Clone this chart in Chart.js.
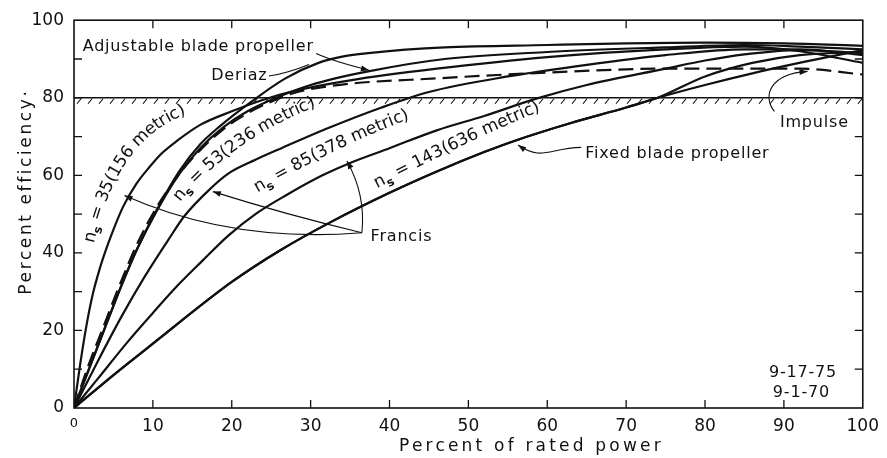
<!DOCTYPE html>
<html>
<head>
<meta charset="utf-8">
<script src="https://cdn.jsdelivr.net/npm/chart.js@4"></script>
<style>
  html, body { margin: 0; padding: 0; background: #fff; }
  #chart { display: block; }
</style>
</head>
<body>
<canvas id="chart" width="887" height="458"></canvas>
<script>
// curves: x = percent of rated power, y = percent efficiency
const ns35_x = [0, 0.8, 1.6, 2.4, 3.2, 4, 5, 6.2, 7.9, 9.6, 11.2, 13, 16, 20, 24, 28, 35, 46, 60, 75, 85, 92, 100];
const ns35_y = [0, 11.5, 21.5, 29.5, 35.5, 40.5, 46, 51.8, 57.8, 62.2, 65.8, 68.8, 73, 76.5, 79.5, 81.8, 84.5, 87.5, 90.5, 92.5, 93.2, 92, 89];

const ns53_x = [0, 3, 6, 9, 12, 14, 17, 19.6, 23, 26.3, 32, 39, 45, 55, 65, 75, 85, 92, 100];
const ns53_y = [0, 12, 23.5, 34, 43.5, 49.5, 56, 60.5, 64, 67, 72, 77.5, 81.5, 85.5, 88.5, 91, 92.5, 92.5, 91];

const ns85_x = [0, 3, 6.7, 10, 13.1, 16.3, 19.6, 23, 27, 31.5, 35, 40, 46, 52, 58.5, 65, 75, 80, 85, 92, 100];
const ns85_y = [0, 7.5, 16.8, 24.5, 31.5, 38, 44.5, 50, 55, 60, 63.2, 67, 71.6, 75.3, 79.7, 83.3, 87.5, 89.6, 91.2, 92.3, 91.5];

const ns143_x = [0, 5, 10, 20, 26, 32.6, 40, 46, 52, 56, 63, 70, 74, 80, 86, 92, 100];
const ns143_y = [0, 8.5, 16.6, 32.5, 40.5, 48, 55.5, 61, 66, 69, 73.5, 77.5, 80, 85.5, 89, 91, 91.8];

const fixed_x = [0, 5, 10, 20, 26, 32.6, 40, 46, 52, 56, 63, 70, 74, 80, 86, 92.7, 100];
const fixed_y = [0, 8.5, 16.6, 32.5, 40.5, 48, 55.5, 61, 66, 69, 73.5, 77.5, 80, 83.3, 86.3, 89.3, 92.3];

const adjustable_x = [0, 1.6, 3.7, 6, 8, 10.4, 13.4, 16, 19, 22, 26, 30, 37.3, 47, 60, 75, 85, 92, 100];
const adjustable_y = [0, 8.5, 19.5, 31.5, 41, 50.5, 60.5, 67, 72.5, 76.5, 80.3, 83.3, 86.8, 90, 91.8, 93, 93.6, 93.2, 92.5];

const deriaz_x = [0, 1.6, 3.7, 6, 8, 10.4, 13.4, 16, 18.4, 22.5, 26.8, 31, 34, 37.3, 42, 47, 60, 70, 80, 90, 100];
const deriaz_y = [0, 8.5, 19.5, 31.5, 41, 50.7, 61.2, 68, 72.5, 79, 85, 89, 90.6, 91.5, 92.4, 93, 93.6, 94, 94.2, 94, 93.4];

const impulse_x = [0, 1.6, 3.7, 6, 8, 10.4, 13.4, 16, 19, 22, 25, 28, 34, 46, 60, 75, 92, 100];
const impulse_y = [0, 9.7, 20.8, 32.8, 42.3, 51.5, 60.5, 66.5, 72, 76, 79, 81.3, 83.4, 85, 86.5, 87.5, 87.5, 86];

const x_tick_values = [0, 10, 20, 30, 40, 50, 60, 70, 80, 90, 100];
const y_tick_values = [0, 20, 40, 60, 80, 100];
const minor_step = 10;
const hatch_level = 80;

const ink = "#111";
const family = "'DejaVu Sans', sans-serif";

const pts = (xs, ys) => xs.map((x, i) => ({ x: x, y: ys[i] }));

const curve = (label, xs, ys, dash) => ({
  label: label,
  data: pts(xs, ys),
  borderColor: ink,
  borderWidth: 2.2,
  borderDash: dash || [],
  pointRadius: 0,
  fill: false,
  cubicInterpolationMode: "monotone",
});

// text placed in data units (x %, y %)
const plain_labels = [
  { text: "Adjustable blade propeller", x: 1.1, y: 92.0 },
  { text: "Deriaz", x: 17.4, y: 84.5 },
  { text: "Francis", x: 37.6, y: 43.1 },
  { text: "Impulse", x: 89.5, y: 72.4 },
  { text: "Fixed blade propeller", x: 64.8, y: 64.5 },
  { text: "9-17-75", x: 88.1, y: 8.0 },
  { text: "9-1-70", x: 88.6, y: 2.8 },
];

// specific speed labels follow a cubic path (data units)
const ns_labels = [
  { rest: " = 35(156 metric)", path: [[1.77, 40.9], [3.28, 55.4], [6.44, 72.0], [14.9, 77.5]] },
  { rest: " = 53(236 metric)", path: [[12.6, 52.7], [15.3, 60.3], [21.6, 72.1], [31.1, 79.3]] },
  { rest: " = 85(378 metric)", path: [[22.5, 56.0], [27.3, 61.8], [34.8, 70.1], [42.9, 76.0]] },
  { rest: " = 143(636 metric)", path: [[37.4, 56.9], [43.7, 63.5], [51.3, 71.5], [59.8, 78.4]] },
];

// leader lines: start, control point(s), end (arrow at end when arrow is true)
const leaders = [
  { p: [[36.5, 45.2], [20, 42.5], [6.4, 54.8]], arrow: true },
  { p: [[36.5, 45.2], [27, 49.8], [17.6, 55.8]], arrow: true },
  { p: [[36.5, 45.2], [37, 55], [34.6, 63.7]], arrow: true },
  { p: [[30.7, 91.4], [33, 89.3], [37.4, 87.1]], arrow: true },
  { p: [[24.7, 85.6], [27, 86.3], [29.8, 88.6]], arrow: false },
  { p: [[88.8, 76.5], [87.2, 80.5], [88.3, 86.2], [93, 86.8]], arrow: true },
  { p: [[64.3, 67.2], [60.2, 67], [59.3, 63.6], [56.3, 67.8]], arrow: true },
];

const draw_arrow = (ctx, from, to) => {
  const a = Math.atan2(to.y - from.y, to.x - from.x);
  ctx.beginPath();
  ctx.moveTo(to.x, to.y);
  ctx.lineTo(to.x - 8 * Math.cos(a) + 3 * Math.sin(a), to.y - 8 * Math.sin(a) - 3 * Math.cos(a));
  ctx.lineTo(to.x - 8 * Math.cos(a) - 3 * Math.sin(a), to.y - 8 * Math.sin(a) + 3 * Math.cos(a));
  ctx.closePath();
  ctx.fill();
};

const bez = (q, t) => {
  const u = 1 - t;
  const a = u * u * u, b = 3 * u * u * t, c = 3 * u * t * t, d = t * t * t;
  return { x: a * q[0].x + b * q[1].x + c * q[2].x + d * q[3].x, y: a * q[0].y + b * q[1].y + c * q[2].y + d * q[3].y };
};

// lays the characters one by one along the cubic, centred on it
const text_on_path = (ctx, parts, q) => {
  const chars = [];
  parts.forEach((pt) => {
    ctx.font = pt.font;
    for (const ch of pt.text) chars.push({ ch: ch, font: pt.font, dy: pt.dy, w: ctx.measureText(ch).width });
  });
  const samples = [];
  let len = 0;
  let prev = bez(q, 0);
  for (let i = 0; i <= 300; i++) {
    const p = bez(q, i / 300);
    len += Math.hypot(p.x - prev.x, p.y - prev.y);
    samples.push({ p: p, len: len });
    prev = p;
  }
  const total = chars.reduce((s, c) => s + c.w, 0);
  let s = (len - total) / 2;
  chars.forEach((c) => {
    const mid = s + c.w / 2;
    let k = samples.findIndex((sm) => sm.len >= mid);
    if (k < 1) k = 1;
    const p0 = samples[k - 1].p, p1 = samples[k].p;
    ctx.save();
    ctx.translate((p0.x + p1.x) / 2, (p0.y + p1.y) / 2);
    ctx.rotate(Math.atan2(p1.y - p0.y, p1.x - p0.x));
    ctx.font = c.font;
    ctx.fillText(c.ch, -c.w / 2, c.dy);
    ctx.restore();
    s += c.w;
  });
};

const overlay = {
  id: "overlay",
  afterDatasetsDraw(chart) {
    const ctx = chart.ctx;
    const area = chart.chartArea;
    const sx = chart.scales.x;
    const sy = chart.scales.y;
    const P = (v) => ({ x: sx.getPixelForValue(v[0]), y: sy.getPixelForValue(v[1]) });

    ctx.save();
    ctx.strokeStyle = ink;
    ctx.fillStyle = ink;

    // frame
    ctx.lineWidth = 1.6;
    ctx.strokeRect(area.left, area.top, area.right - area.left, area.bottom - area.top);

    // inward ticks on all four sides
    ctx.lineWidth = 1.3;
    ctx.beginPath();
    for (let v = minor_step; v < 100; v += minor_step) {
      const px = sx.getPixelForValue(v);
      ctx.moveTo(px, area.bottom); ctx.lineTo(px, area.bottom - 8);
      ctx.moveTo(px, area.top); ctx.lineTo(px, area.top + 8);
      const py = sy.getPixelForValue(v);
      ctx.moveTo(area.left, py); ctx.lineTo(area.left + 8, py);
      ctx.moveTo(area.right, py); ctx.lineTo(area.right - 8, py);
    }
    ctx.stroke();

    // hatched 80 % line
    const hy = sy.getPixelForValue(hatch_level);
    ctx.lineWidth = 1.5;
    ctx.beginPath();
    ctx.moveTo(area.left, hy); ctx.lineTo(area.right, hy);
    ctx.stroke();
    ctx.lineWidth = 1.1;
    ctx.beginPath();
    for (let px = area.left + 3; px < area.right - 4; px += 11) {
      ctx.moveTo(px, hy + 6); ctx.lineTo(px + 4, hy + 1);
    }
    ctx.stroke();

    // leaders
    ctx.lineWidth = 1.1;
    leaders.forEach((l) => {
      const q = l.p.map(P);
      ctx.beginPath();
      ctx.moveTo(q[0].x, q[0].y);
      if (q.length === 3) ctx.quadraticCurveTo(q[1].x, q[1].y, q[2].x, q[2].y);
      else ctx.bezierCurveTo(q[1].x, q[1].y, q[2].x, q[2].y, q[3].x, q[3].y);
      ctx.stroke();
      if (l.arrow) draw_arrow(ctx, q[q.length - 2], q[q.length - 1]);
    });

    // plain labels
    ctx.font = `16px ${family}`;
    ctx.letterSpacing = "0.8px";
    ctx.textAlign = "left";
    ctx.textBaseline = "alphabetic";
    plain_labels.forEach((t) => {
      const q = P([t.x, t.y]);
      ctx.fillText(t.text, q.x, q.y);
    });

    // n_s labels along their curves
    ctx.letterSpacing = "0px";
    ctx.textBaseline = "middle";
    ns_labels.forEach((t) => {
      text_on_path(ctx, [
        { text: "n", font: `17px ${family}`, dy: 0 },
        { text: "s", font: `bold 12px ${family}`, dy: 6 },
        { text: t.rest, font: `17px ${family}`, dy: 0 },
      ], t.path.map(P));
    });

    // axis titles
    ctx.font = `17px ${family}`;
    ctx.letterSpacing = "3.2px";
    ctx.textAlign = "center";
    ctx.textBaseline = "middle";
    ctx.fillText("Percent of rated power", sx.getPixelForValue(58), area.bottom + 39);
    ctx.save();
    ctx.translate(area.left - 47, sy.getPixelForValue(55.8));
    ctx.rotate(-Math.PI / 2);
    ctx.letterSpacing = "2.6px";
    ctx.fillText("Percent efficiency\u00b7", 0, 0);
    ctx.restore();

    ctx.restore();
  },
};

const tick_font = (context) => ({
  family: family,
  size: context.tick && context.tick.value === 0 ? 13 : 17,
});

new Chart(document.getElementById("chart"), {
  type: "line",
  data: {
    datasets: [
      curve("Francis ns=35", ns35_x, ns35_y),
      curve("Francis ns=53", ns53_x, ns53_y),
      curve("Francis ns=85", ns85_x, ns85_y),
      curve("Francis ns=143", ns143_x, ns143_y),
      curve("Fixed blade propeller", fixed_x, fixed_y),
      curve("Adjustable blade propeller", adjustable_x, adjustable_y),
      curve("Deriaz", deriaz_x, deriaz_y),
      curve("Impulse", impulse_x, impulse_y, [15, 7]),
    ],
  },
  options: {
    responsive: false,
    animation: false,
    layout: { padding: { top: 17, right: 21, left: 0, bottom: 0 } },
    plugins: {
      legend: { display: false },
      tooltip: { enabled: false },
    },
    scales: {
      x: {
        type: "linear",
        min: 0,
        max: 100,
        grid: { display: false, drawTicks: false },
        border: { display: false },
        afterBuildTicks: (s) => { s.ticks = x_tick_values.map((v) => ({ value: v })); },
        afterFit: (s) => { s.height = 50; },
        ticks: { color: ink, font: tick_font, padding: 8, maxRotation: 0, autoSkip: false },
      },
      y: {
        type: "linear",
        min: 0,
        max: 100,
        grid: { display: false, drawTicks: false },
        border: { display: false },
        afterBuildTicks: (s) => { s.ticks = y_tick_values.map((v) => ({ value: v })); },
        afterFit: (s) => { s.width = 74; },
        ticks: { color: ink, font: { family: family, size: 17 }, padding: 10 },
      },
    },
  },
  plugins: [overlay],
});
</script>
</body>
</html>
